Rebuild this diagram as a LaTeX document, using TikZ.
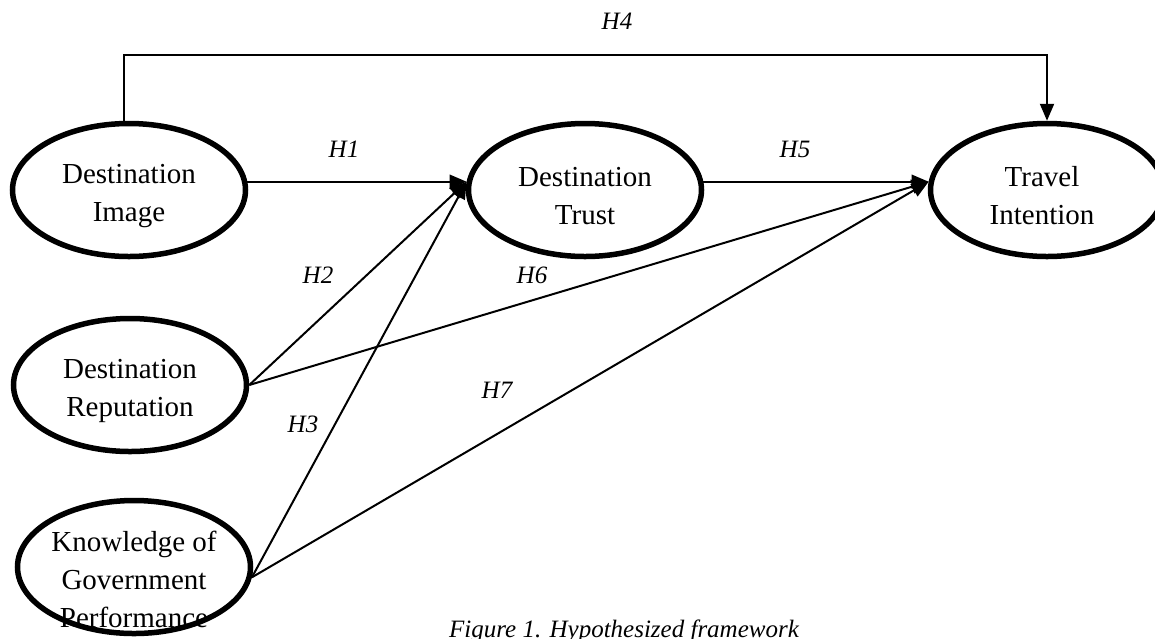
\documentclass[tikz,border=0pt]{standalone}
\usepackage{fontspec}
\setmainfont{Liberation Serif}
\usetikzlibrary{shapes.geometric,arrows.meta}
\tikzset{
  latent/.style={ellipse, draw, line width=5.5pt, minimum width=233pt, minimum height=133pt, inner sep=0pt},
  lbl/.style={font=\fontsize{29}{38}\selectfont, align=center, inner sep=0pt},
  hyp/.style={font=\fontsize{25}{30}\selectfont\itshape, anchor=base, inner sep=0pt},
  conn/.style={line width=2pt, -{Triangle[length=17pt,width=14pt]}},
  plain/.style={line width=2pt}
}
\begin{document}
\begin{tikzpicture}[x=1pt,y=-1pt]
\useasboundingbox (0,0) rectangle (1155,638);
% constructs
\node[latent] (img) at (129,190) {};
\node[latent] (trust) at (585,190) {};
\node[latent] (trav) at (1047,190) {};
\node[latent] (rep) at (130,385) {};
\node[latent] (know) at (134,567) {};
\node[lbl] (imgt) at (129,196) {Destination\\Image};
\node[lbl] (trustt) at (585,196) {Destination\\Trust};
\node[lbl] (travt) at (1042,196) {Travel\\Intention};
\node[lbl] (rept) at (130,391) {Destination\\Reputation};
\node[lbl] (knowt) at (134,579) {Knowledge of\\Government\\Performance};
% connectors
\coordinate (h4y) at (0,55);
\draw[conn] (img.94) -- (img.94 |- h4y) -| (trav.north);
\draw[conn] (img.4) -- (trust.176.5);
\draw[conn] (trust.4) -- (trav.176.5);
\draw[conn] (rep.east) -- (trust.176.5);
\draw[conn] (rep.east) -- (trav.176.5);
\draw[conn] (know.355) -- (trust.176.5);
\draw[conn] (know.355) -- (trav.176.5);
% labels
\node[hyp] (l4) at (617,29) {H4};
\node[hyp] (l1) at (344,157) {H1};
\node[hyp] (l5) at (795,157) {H5};
\node[hyp] (l2) at (318,283) {H2};
\node[hyp] (l6) at (532,283) {H6};
\node[hyp] (l3) at (303,432) {H3};
\node[hyp] (l7) at (497,398) {H7};
\node[hyp] (cap) at (624,637) {Figure 1. Hypothesized framework};
\end{tikzpicture}
\end{document}
